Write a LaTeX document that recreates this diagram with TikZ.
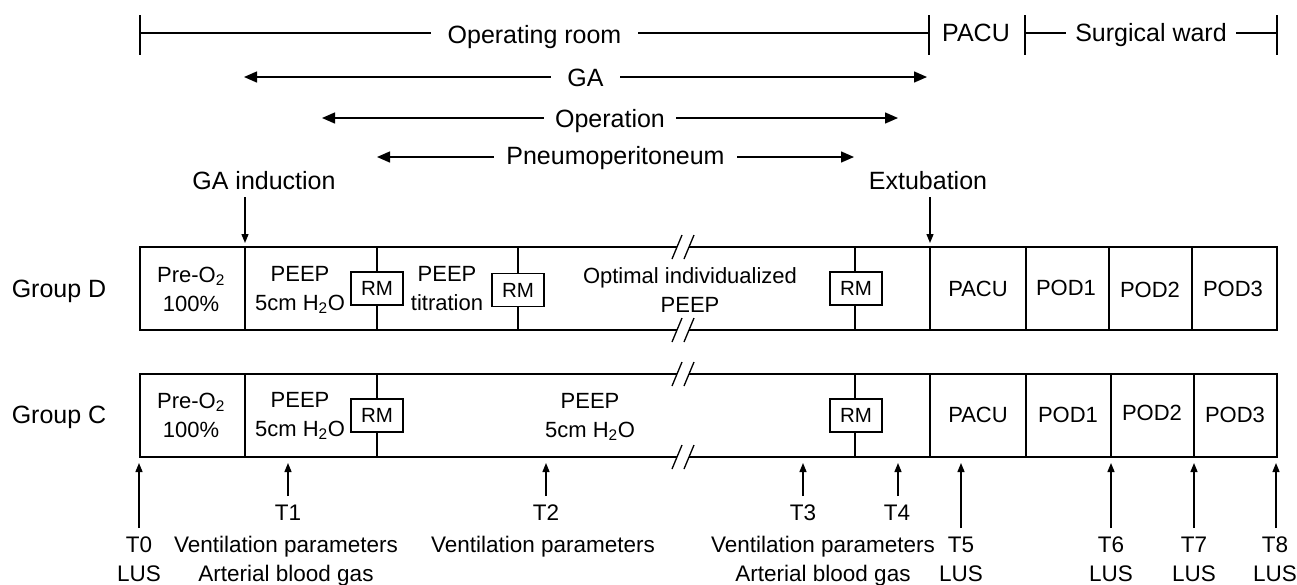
\documentclass[tikz,border=0pt]{standalone}
\usepackage{fontspec}
\setmainfont{Liberation Sans}
\usetikzlibrary{arrows.meta}
\begin{document}
\begin{tikzpicture}[x=1pt,y=-1pt,
  bx/.style={line width=1.6pt},
  thinline/.style={line width=1.3pt},
  big/.style={font=\fontsize{25}{30}\selectfont, inner sep=0pt},
  txt/.style={font=\fontsize{22}{29}\selectfont, align=center, inner sep=0pt},
  btxt/.style={font=\fontsize{22.5}{29}\selectfont, align=center, inner sep=0pt},
  rmbox/.style={draw, fill=white, line width=1.3pt, minimum width=52pt, minimum height=33pt, inner sep=0pt, font=\fontsize{20.5}{24}\selectfont},
  span/.style={line width=1.4pt, {Triangle[length=13pt,width=11pt]}-{Triangle[length=13pt,width=11pt]}},
  sarr/.style={line width=1.3pt, -{Triangle[length=9pt,width=7pt]}},
  gaplabel/.style={big, fill=white, inner ysep=0pt},
]
\useasboundingbox (0,0) rectangle (1297,584);

% ---------- top location bar ----------
\coordinate (orL) at (140,33);
\coordinate (orR) at (929,33);
\coordinate (swL) at (1025,33);
\coordinate (swR) at (1277,33);
\draw[thinline] (orL) -- node[gaplabel, inner xsep=17pt, yshift=-4pt] (oroom) {Operating room} (orR);
\draw[thinline] (swL) -- node[gaplabel, inner xsep=9pt, yshift=-2.5pt] (sward) {Surgical ward} (swR);
\foreach \x in {140,929,1025,1277} \draw[thinline] (\x,15) -- (\x,55);
\node[big] (pacutop) at (976,33) {PACU};

% ---------- period arrows ----------
\coordinate (gaL) at (244,77);
\coordinate (gaR) at (927,77);
\coordinate (opL) at (322,118);
\coordinate (opR) at (898,118);
\coordinate (pnL) at (377,157);
\coordinate (pnR) at (854,157);
\draw[span] (gaL) -- node[gaplabel, inner xsep=16pt, yshift=-0.5pt] (ga) {GA} (gaR);
\draw[span] (opL) -- node[gaplabel, inner xsep=11pt, yshift=-3pt] (op) {Operation} (opR);
\draw[span] (pnL) -- node[gaplabel, inner xsep=12pt, yshift=-1.5pt] (pn) {Pneumoperitoneum} (pnR);

% ---------- events ----------
\node[big] (gaind) at (264,180.5) {GA induction};
\node[big] (extub) at (928,180.5) {Extubation};
\coordinate (gaindA) at (245,197);
\coordinate (gaindB) at (245,243);
\coordinate (extubA) at (930,197);
\coordinate (extubB) at (930,243);
\draw[sarr] (gaindA) -- (gaindB);
\draw[sarr] (extubA) -- (extubB);

% ---------- group labels ----------
\node[big] (grpD) at (59,291.5) {Group D};
\node[big] (grpC) at (59,417.5) {Group C};

% ---------- Group D box ----------
\draw[bx] (677,247) -- (140,247) -- (140,330) -- (677,330);
\draw[bx] (689,247) -- (1277,247) -- (1277,330) -- (689,330);
\foreach \x in {245,377,518,855,930,1026,1109,1192} \draw[bx] (\x,247) -- (\x,330);
\foreach \y in {247,330} {
  \draw[thinline] (672,\y+12) -- (682,\y-12);
  \draw[thinline] (684,\y+12) -- (694,\y-12);
}
\node[rmbox] (rmD1) at (377,288.5) {RM};
\node[rmbox] (rmD2) at (518,290) {RM};
\node[rmbox] (rmD3) at (856,288.5) {RM};
\node[txt] (preD) at (191,289) {Pre-O\textsubscript{2}\\100\%};
\node[txt] (peepD) at (300,290) {PEEP\\5cm H\textsubscript{2}O};
\node[txt] (titD) at (447,289) {PEEP\\titration};
\node[txt] (optD) at (690,290) {Optimal individualized\\PEEP};
\node[txt] (pacuD) at (978,289) {PACU};
\node[txt] (pod1D) at (1066,288) {POD1};
\node[txt] (pod2D) at (1150,290) {POD2};
\node[txt] (pod3D) at (1233,289) {POD3};

% ---------- Group C box ----------
\draw[bx] (677,374) -- (140,374) -- (140,457) -- (677,457);
\draw[bx] (689,374) -- (1277,374) -- (1277,457) -- (689,457);
\foreach \x in {245,377,855,930,1026,1111,1194} \draw[bx] (\x,374) -- (\x,457);
\foreach \y in {374,457} {
  \draw[thinline] (672,\y+12) -- (682,\y-12);
  \draw[thinline] (684,\y+12) -- (694,\y-12);
}
\node[rmbox] (rmC1) at (377,415.5) {RM};
\node[rmbox] (rmC2) at (856,415.5) {RM};
\node[txt] (preC) at (191,415) {Pre-O\textsubscript{2}\\100\%};
\node[txt] (peepC1) at (300,416) {PEEP\\5cm H\textsubscript{2}O};
\node[txt] (peepC2) at (590,417) {PEEP\\5cm H\textsubscript{2}O};
\node[txt] (pacuC) at (978,415) {PACU};
\node[txt] (pod1C) at (1068,415) {POD1};
\node[txt] (pod2C) at (1152,413) {POD2};
\node[txt] (pod3C) at (1235,415) {POD3};

% ---------- time points ----------
\foreach \n/\x in {0/139,5/961,6/1111,7/1194,8/1276} {
  \coordinate (tb\n) at (\x,528);
  \coordinate (tt\n) at (\x,463);
  \draw[sarr] (tb\n) -- (tt\n);
}
\foreach \n/\x in {1/288,2/546,3/803,4/898} {
  \coordinate (tb\n) at (\x,496);
  \coordinate (tt\n) at (\x,463);
  \draw[sarr] (tb\n) -- (tt\n);
}
\node[btxt] (T0) at (139,559.5) {T0\\LUS};
\node[btxt] (T5) at (961,559.5) {T5\\LUS};
\node[btxt] (T6) at (1111,559.5) {T6\\LUS};
\node[btxt] (T7) at (1194,559.5) {T7\\LUS};
\node[btxt] (T8) at (1275,559.5) {T8\\LUS};
\node[btxt] (T1) at (288,513) {T1};
\node[btxt] (T2) at (546,513) {T2};
\node[btxt] (T3) at (803,513) {T3};
\node[btxt] (T4) at (897,513) {T4};
\node[btxt] (T1d) at (286,561) {Ventilation parameters\\Arterial blood gas};
\node[btxt] (T2d) at (543,547) {Ventilation parameters};
\node[btxt] (T3d) at (823,561) {Ventilation parameters\\Arterial blood gas};
\end{tikzpicture}
\end{document}
